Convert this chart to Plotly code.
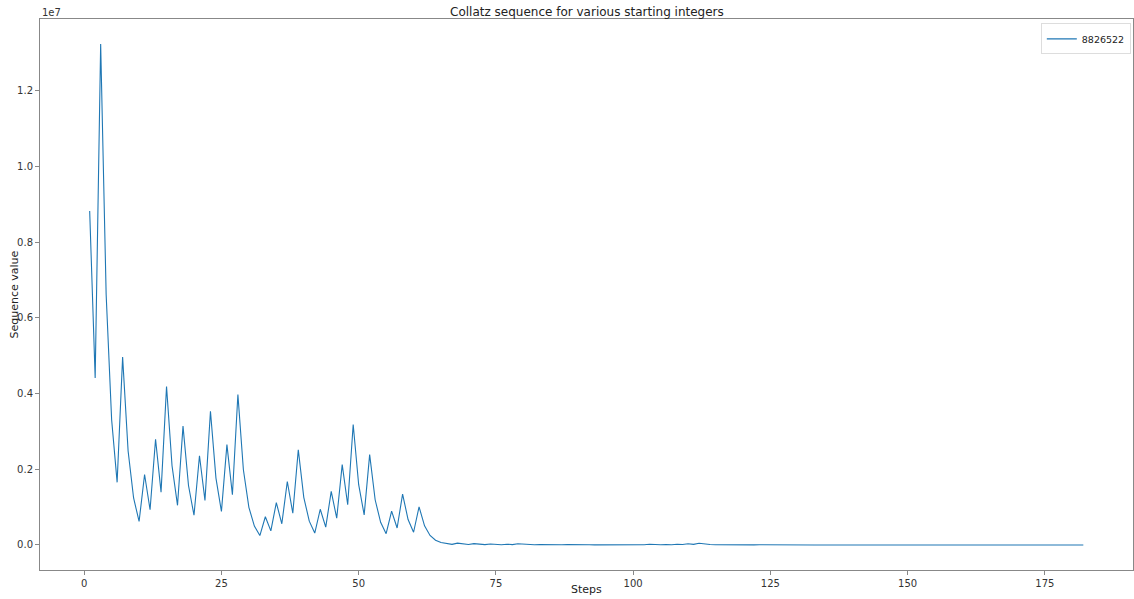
import plotly.graph_objects as go

steps = list(range(1, 183))
values = [
    8826522, 4413261, 13239784, 6619892, 3309946, 1654973, 4964920, 2482460, 1241230, 620615,
    1861846, 930923, 2792770, 1396385, 4189156, 2094578, 1047289, 3141868, 1570934, 785467,
    2356402, 1178201, 3534604, 1767302, 883651, 2650954, 1325477, 3976432, 1988216, 994108,
    497054, 248527, 745582, 372791, 1118374, 559187, 1677562, 838781, 2516344, 1258172,
    629086, 314543, 943630, 471815, 1415446, 707723, 2123170, 1061585, 3184756, 1592378,
    796189, 2388568, 1194284, 597142, 298571, 895714, 447857, 1343572, 671786, 335893,
    1007680, 503840, 251920, 125960, 62980, 31490, 15745, 47236, 23618, 11809,
    35428, 17714, 8857, 26572, 13286, 6643, 19930, 9965, 29896, 14948,
    7474, 3737, 11212, 5606, 2803, 8410, 4205, 12616, 6308, 3154,
    1577, 4732, 2366, 1183, 3550, 1775, 5326, 2663, 7990, 3995,
    11986, 5993, 17980, 8990, 4495, 13486, 6743, 20230, 10115, 30346,
    15173, 45520, 22760, 11380, 5690, 2845, 8536, 4268, 2134, 1067,
    3202, 1601, 4804, 2402, 1201, 3604, 1802, 901, 2704, 1352,
    676, 338, 169, 508, 254, 127, 382, 191, 574, 287,
    862, 431, 1294, 647, 1942, 971, 2914, 1457, 4372, 2186,
    1093, 3280, 1640, 820, 410, 205, 616, 308, 154, 77,
    232, 116, 58, 29, 88, 44, 22, 11, 34, 17,
    52, 26, 13, 40, 20, 10, 5, 16, 8, 4,
    2, 1,
]
series_name = "8826522"
y_tick_vals = [0, 2e6, 4e6, 6e6, 8e6, 1e7, 1.2e7]
y_tick_text = ["0.0", "0.2", "0.4", "0.6", "0.8", "1.0", "1.2"]
x_tick_vals = [0, 25, 50, 75, 100, 125, 150, 175]

fig = go.Figure()
fig.add_trace(go.Scatter(x=steps, y=values, mode="lines", name=series_name,
                         line=dict(color="#1f77b4", width=1.1), showlegend=True))

axis_common = dict(showgrid=False, zeroline=False, showline=True, linecolor="#888888",
                   linewidth=1, mirror=True, ticks="outside", ticklen=4, tickcolor="#888888",
                   automargin=False, tickfont=dict(size=10, color="#333333"))
fig.update_xaxes(range=[-8.05, 191.05], tickvals=x_tick_vals, **axis_common)
fig.update_yaxes(range=[-661989, 13901772], tickvals=y_tick_vals, ticktext=y_tick_text,
                 **axis_common)

fig.update_layout(
    width=1134, height=599,
    margin=dict(l=40, r=1, t=19, b=29, autoexpand=False),
    plot_bgcolor="white", paper_bgcolor="white",
    font=dict(family="DejaVu Sans", color="#222222"),
    legend=dict(x=0.998, y=0.992, xanchor="right", yanchor="top", bgcolor="white",
                bordercolor="#dddddd", borderwidth=1, font=dict(size=9.5),
                itemwidth=30, tracegroupgap=0),
    annotations=[
        dict(text="1e7", xref="paper", yref="paper", x=0, y=1, xanchor="left",
             yanchor="bottom", yshift=-1, showarrow=False, font=dict(size=10, color="#333333")),
        dict(text="Collatz sequence for various starting integers", xref="paper", yref="paper",
             x=0.5, y=1, xanchor="center", yanchor="bottom", yshift=-2, showarrow=False,
             font=dict(size=12, color="#222222")),
        dict(text="Steps", xref="paper", yref="paper", x=0.5, y=0, xanchor="center",
             yanchor="middle", yshift=-19, showarrow=False, font=dict(size=11, color="#222222")),
        dict(text="Sequence value", xref="paper", yref="paper", x=0, y=0.5, xanchor="center",
             yanchor="middle", xshift=-26, textangle=-90, showarrow=False,
             font=dict(size=11, color="#222222")),
    ],
)

fig.write_html("out.html", config={"displayModeBar": False},
               post_script="document.body.style.margin='0';document.body.style.overflow='hidden';")
